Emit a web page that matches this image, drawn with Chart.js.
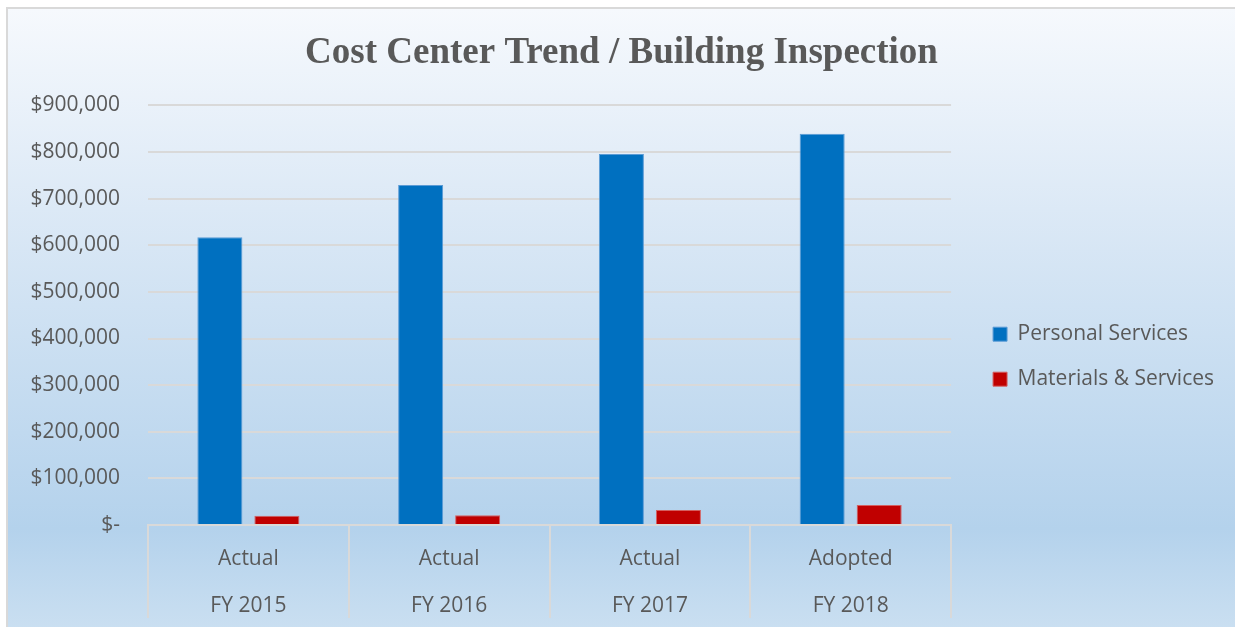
<!DOCTYPE html>
<html>
<head>
<meta charset="utf-8">
<script src="https://cdn.jsdelivr.net/npm/chart.js@4/dist/chart.umd.min.js"></script>
<style>
  html, body { margin: 0; padding: 0; background: #fff; overflow: hidden; }
  body { width: 1235px; height: 627px; position: relative; }
  #frame {
    position: absolute; left: 6px; top: 7px; width: 1240px; height: 640px;
    border: 2px solid #d9d9d9;
    background: linear-gradient(to bottom, #f6f9fd 0px, #dce9f6 200px, #b4d2ec 520px, #cadff1 620px);
  }
  #wrap { position: absolute; left: 0; top: 0; width: 1227px; height: 618px; }
</style>
</head>
<body>
<div id="frame">
  <div id="wrap"><canvas id="chart"></canvas></div>
</div>
<script>
const categories = [["Actual", "FY 2015"], ["Actual", "FY 2016"], ["Actual", "FY 2017"], ["Adopted", "FY 2018"]];
const personalServices = [617000, 729000, 796000, 839000];
const materialsServices = [20000, 21000, 32000, 43000];
const seriesNames = ["Personal Services", "Materials & Services"];

const TEXT = "#595959";
const GRID = "#d9d9d9";
const FONT = "'Open Sans', sans-serif";

const fmtMoney = v => v === 0 ? "$-" : "$" + v.toLocaleString("en-US");

new Chart(document.getElementById("chart"), {
  type: "bar",
  data: {
    labels: categories,
    datasets: [
      {
        label: seriesNames[0],
        data: personalServices,
        backgroundColor: "#0070c0",
        borderColor: "#5b9bd5",
        borderWidth: 1,
        categoryPercentage: 0.568,
        barPercentage: 0.79,
      },
      {
        label: seriesNames[1],
        data: materialsServices,
        backgroundColor: "#c00000",
        borderColor: "#d46060",
        borderWidth: 1,
        categoryPercentage: 0.568,
        barPercentage: 0.79,
      },
    ],
  },
  options: {
    responsive: true,
    maintainAspectRatio: false,
    animation: false,
    layout: { padding: { left: 11, right: 11 } },
    plugins: {
      title: {
        display: true,
        text: "Cost Center Trend / Building Inspection",
        color: TEXT,
        font: { family: "'Liberation Serif', 'Times New Roman', serif", size: 37, weight: "bold", lineHeight: 1.2 },
        padding: { top: 22, bottom: 30 },
      },
      legend: {
        position: "right",
        align: "center",
        maxWidth: 320,
        // blank title only pushes the items down a little
        title: { display: true, text: " ", font: { size: 12 }, padding: { top: 63, bottom: 0 } },
        labels: {
          color: TEXT,
          font: { family: FONT, size: 21 },
          boxWidth: 14,
          boxHeight: 14,
          padding: 24,
        },
      },
      tooltip: { enabled: false },
    },
    scales: {
      x: {
        grid: {
          offset: true,
          drawOnChartArea: false,
          drawTicks: true,
          tickLength: 93,
          color: GRID,
          lineWidth: 2,
        },
        border: { display: true, color: GRID, width: 2 },
        ticks: {
          color: TEXT,
          font: { family: FONT, size: 21, lineHeight: "47px" },
          padding: -82,
          maxRotation: 0,
        },
        afterFit: s => { s.height = 102; },
      },
      y: {
        min: 0,
        max: 900000,
        grid: { color: GRID, lineWidth: 2, drawTicks: false },
        border: { display: false },
        ticks: {
          stepSize: 100000,
          color: TEXT,
          font: { family: FONT, size: 21 },
          padding: 28,
          callback: v => fmtMoney(v),
        },
        afterFit: s => { s.width = 129; },
      },
      gap: {
        type: "linear",
        position: "right",
        display: true,
        grid: { display: false },
        border: { display: false },
        ticks: { display: false },
        afterFit: s => { s.width = 18; },
      },
    },
  },
});
</script>
</body>
</html>
